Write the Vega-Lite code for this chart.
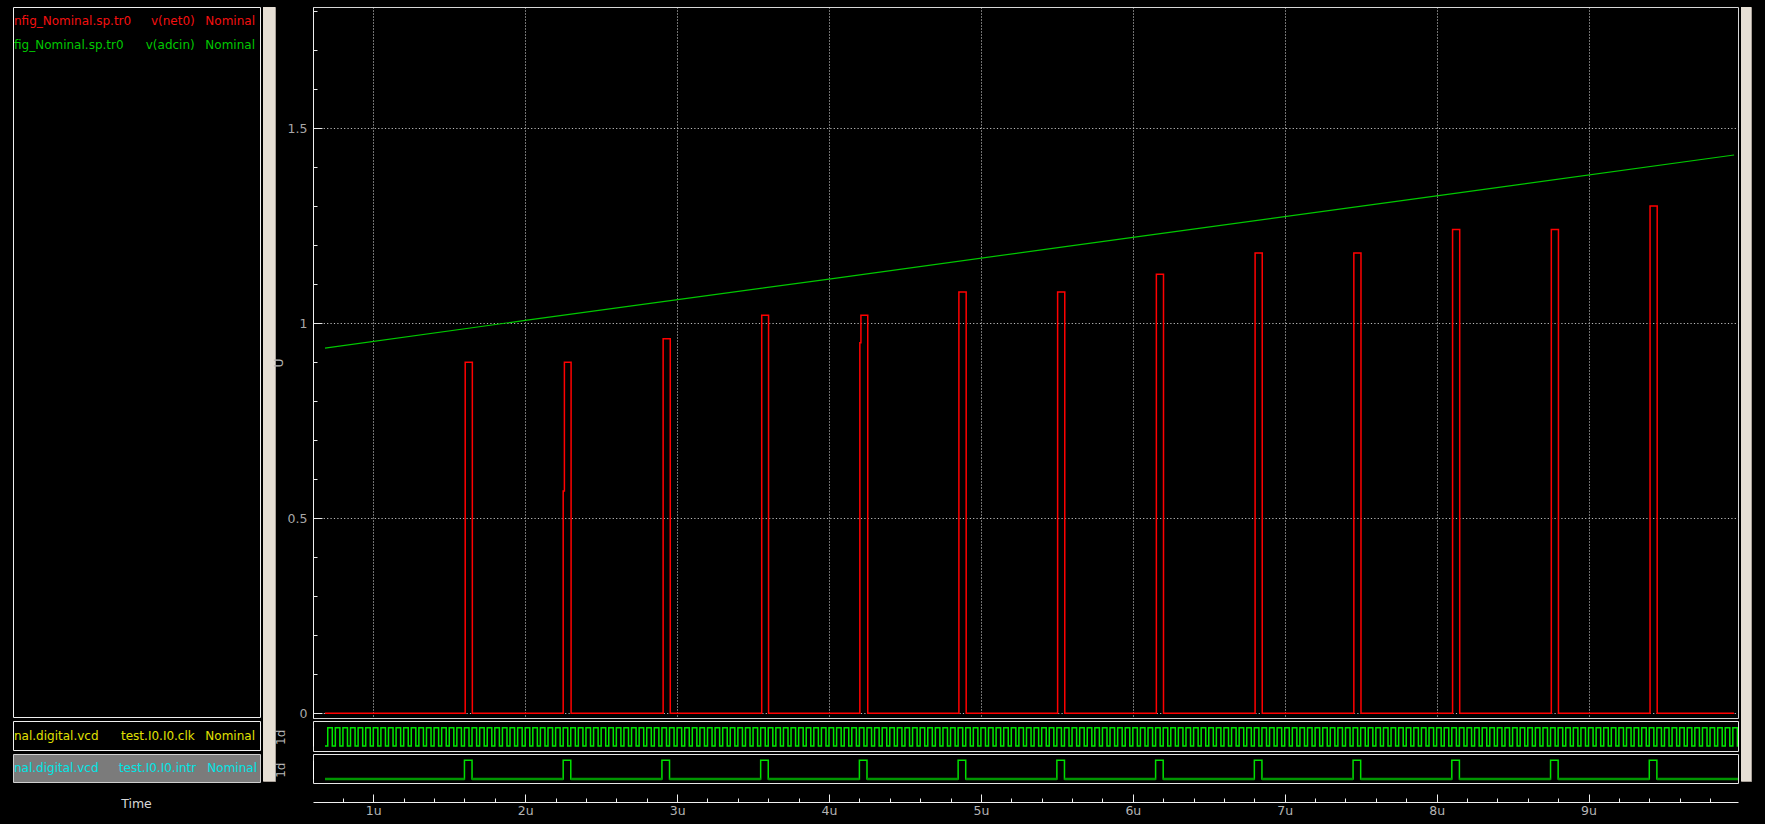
{
  "$schema": "https://vega.github.io/schema/vega-lite/v6.json",
  "background": "#000000",
  "padding": {"left": 12, "top": 6, "right": 15, "bottom": 8},
  "spacing": 1,
  "config": {
    "view": {"stroke": null},
    "font": "DejaVu Sans",
    "text": {"font": "DejaVu Sans"},
    "scale": {"pointPadding": 0},
    "axis": {"labelFont": "DejaVu Sans", "titleFont": "DejaVu Sans", "titleFontWeight": "normal"}
  },
  "datasets": {
    "legend": [
      {"row": 1, "file": "nfig_Nominal.sp.tr0", "signal": "v(net0)", "corner": "Nominal"},
      {"row": 2, "file": "fig_Nominal.sp.tr0", "signal": "v(adcin)", "corner": "Nominal"}
    ],
    "clkLabel": [{"file": "nal.digital.vcd", "signal": "test.I0.I0.clk", "corner": "Nominal"}],
    "intrLabel": [{"file": "nal.digital.vcd", "signal": "test.I0.I0.intr", "corner": "Nominal"}],
    "net0": [
      {"t":0.682,"v":0},{"t":1.605,"v":0.9},{"t":1.652,"v":0},{"t":2.25,"v":0.57},{"t":2.258,"v":0.9},{"t":2.302,"v":0},
      {"t":2.908,"v":0.96},{"t":2.955,"v":0},{"t":3.557,"v":1.02},{"t":3.602,"v":0},{"t":4.203,"v":0.95},{"t":4.21,"v":1.02},{"t":4.255,"v":0},
      {"t":4.855,"v":1.08},{"t":4.903,"v":0},{"t":5.505,"v":1.08},{"t":5.552,"v":0},{"t":6.155,"v":1.125},{"t":6.202,"v":0},
      {"t":6.805,"v":1.18},{"t":6.852,"v":0},{"t":7.455,"v":1.18},{"t":7.502,"v":0},{"t":8.105,"v":1.24},{"t":8.152,"v":0},
      {"t":8.755,"v":1.24},{"t":8.802,"v":0},{"t":9.405,"v":1.3},{"t":9.452,"v":0},{"t":9.958,"v":0}
    ],
    "adcin": [
      {"t":0.682,"v":0.936},{"t":2,"v":1.007},{"t":4,"v":1.113},{"t":6,"v":1.22},{"t":8,"v":1.326},{"t":9.958,"v":1.431}
    ],
    "clk": [
      {"f":0.682,"r":0.7},{"f":0.73,"r":0.75},{"f":0.78,"r":0.8},{"f":0.83,"r":0.85},{"f":0.88,"r":0.9},{"f":0.93,"r":0.95},{"f":0.98,"r":1},
      {"f":1.03,"r":1.05},{"f":1.08,"r":1.1},{"f":1.13,"r":1.15},{"f":1.18,"r":1.2},{"f":1.23,"r":1.25},{"f":1.28,"r":1.3},{"f":1.33,"r":1.35},{"f":1.38,"r":1.4},{"f":1.43,"r":1.45},{"f":1.48,"r":1.5},{"f":1.53,"r":1.55},{"f":1.58,"r":1.6},{"f":1.63,"r":1.65},{"f":1.68,"r":1.7},{"f":1.73,"r":1.75},{"f":1.78,"r":1.8},{"f":1.83,"r":1.85},{"f":1.88,"r":1.9},{"f":1.93,"r":1.95},{"f":1.98,"r":2},
      {"f":2.03,"r":2.05},{"f":2.08,"r":2.1},{"f":2.13,"r":2.15},{"f":2.18,"r":2.2},{"f":2.23,"r":2.25},{"f":2.28,"r":2.3},{"f":2.33,"r":2.35},{"f":2.38,"r":2.4},{"f":2.43,"r":2.45},{"f":2.48,"r":2.5},{"f":2.53,"r":2.55},{"f":2.58,"r":2.6},{"f":2.63,"r":2.65},{"f":2.68,"r":2.7},{"f":2.73,"r":2.75},{"f":2.78,"r":2.8},{"f":2.83,"r":2.85},{"f":2.88,"r":2.9},{"f":2.93,"r":2.95},{"f":2.98,"r":3},
      {"f":3.03,"r":3.05},{"f":3.08,"r":3.1},{"f":3.13,"r":3.15},{"f":3.18,"r":3.2},{"f":3.23,"r":3.25},{"f":3.28,"r":3.3},{"f":3.33,"r":3.35},{"f":3.38,"r":3.4},{"f":3.43,"r":3.45},{"f":3.48,"r":3.5},{"f":3.53,"r":3.55},{"f":3.58,"r":3.6},{"f":3.63,"r":3.65},{"f":3.68,"r":3.7},{"f":3.73,"r":3.75},{"f":3.78,"r":3.8},{"f":3.83,"r":3.85},{"f":3.88,"r":3.9},{"f":3.93,"r":3.95},{"f":3.98,"r":4},
      {"f":4.03,"r":4.05},{"f":4.08,"r":4.1},{"f":4.13,"r":4.15},{"f":4.18,"r":4.2},{"f":4.23,"r":4.25},{"f":4.28,"r":4.3},{"f":4.33,"r":4.35},{"f":4.38,"r":4.4},{"f":4.43,"r":4.45},{"f":4.48,"r":4.5},{"f":4.53,"r":4.55},{"f":4.58,"r":4.6},{"f":4.63,"r":4.65},{"f":4.68,"r":4.7},{"f":4.73,"r":4.75},{"f":4.78,"r":4.8},{"f":4.83,"r":4.85},{"f":4.88,"r":4.9},{"f":4.93,"r":4.95},{"f":4.98,"r":5},
      {"f":5.03,"r":5.05},{"f":5.08,"r":5.1},{"f":5.13,"r":5.15},{"f":5.18,"r":5.2},{"f":5.23,"r":5.25},{"f":5.28,"r":5.3},{"f":5.33,"r":5.35},{"f":5.38,"r":5.4},{"f":5.43,"r":5.45},{"f":5.48,"r":5.5},{"f":5.53,"r":5.55},{"f":5.58,"r":5.6},{"f":5.63,"r":5.65},{"f":5.68,"r":5.7},{"f":5.73,"r":5.75},{"f":5.78,"r":5.8},{"f":5.83,"r":5.85},{"f":5.88,"r":5.9},{"f":5.93,"r":5.95},{"f":5.98,"r":6},
      {"f":6.03,"r":6.05},{"f":6.08,"r":6.1},{"f":6.13,"r":6.15},{"f":6.18,"r":6.2},{"f":6.23,"r":6.25},{"f":6.28,"r":6.3},{"f":6.33,"r":6.35},{"f":6.38,"r":6.4},{"f":6.43,"r":6.45},{"f":6.48,"r":6.5},{"f":6.53,"r":6.55},{"f":6.58,"r":6.6},{"f":6.63,"r":6.65},{"f":6.68,"r":6.7},{"f":6.73,"r":6.75},{"f":6.78,"r":6.8},{"f":6.83,"r":6.85},{"f":6.88,"r":6.9},{"f":6.93,"r":6.95},{"f":6.98,"r":7},
      {"f":7.03,"r":7.05},{"f":7.08,"r":7.1},{"f":7.13,"r":7.15},{"f":7.18,"r":7.2},{"f":7.23,"r":7.25},{"f":7.28,"r":7.3},{"f":7.33,"r":7.35},{"f":7.38,"r":7.4},{"f":7.43,"r":7.45},{"f":7.48,"r":7.5},{"f":7.53,"r":7.55},{"f":7.58,"r":7.6},{"f":7.63,"r":7.65},{"f":7.68,"r":7.7},{"f":7.73,"r":7.75},{"f":7.78,"r":7.8},{"f":7.83,"r":7.85},{"f":7.88,"r":7.9},{"f":7.93,"r":7.95},{"f":7.98,"r":8},
      {"f":8.03,"r":8.05},{"f":8.08,"r":8.1},{"f":8.13,"r":8.15},{"f":8.18,"r":8.2},{"f":8.23,"r":8.25},{"f":8.28,"r":8.3},{"f":8.33,"r":8.35},{"f":8.38,"r":8.4},{"f":8.43,"r":8.45},{"f":8.48,"r":8.5},{"f":8.53,"r":8.55},{"f":8.58,"r":8.6},{"f":8.63,"r":8.65},{"f":8.68,"r":8.7},{"f":8.73,"r":8.75},{"f":8.78,"r":8.8},{"f":8.83,"r":8.85},{"f":8.88,"r":8.9},{"f":8.93,"r":8.95},{"f":8.98,"r":9},
      {"f":9.03,"r":9.05},{"f":9.08,"r":9.1},{"f":9.13,"r":9.15},{"f":9.18,"r":9.2},{"f":9.23,"r":9.25},{"f":9.28,"r":9.3},{"f":9.33,"r":9.35},{"f":9.38,"r":9.4},{"f":9.43,"r":9.45},{"f":9.48,"r":9.5},{"f":9.53,"r":9.55},{"f":9.58,"r":9.6},{"f":9.63,"r":9.65},{"f":9.68,"r":9.7},{"f":9.73,"r":9.75},{"f":9.78,"r":9.8},{"f":9.83,"r":9.85},{"f":9.88,"r":9.9},{"f":9.93,"r":9.95},{"f":9.98,"r":10}
    ],
    "intr": [
      {"f":0.682,"r":1.6},{"f":1.65,"r":2.25},{"f":2.3,"r":2.9},{"f":2.95,"r":3.55},{"f":3.6,"r":4.2},{"f":4.25,"r":4.85},{"f":4.9,"r":5.5},
      {"f":5.55,"r":6.15},{"f":6.2,"r":6.8},{"f":6.85,"r":7.45},{"f":7.5,"r":8.1},{"f":8.15,"r":8.75},{"f":8.8,"r":9.4},{"f":9.45,"r":10.05}
    ]
  },
  "hconcat": [
    {
      "spacing": -5,
      "hconcat": [
        {
          "spacing": 1,
          "hconcat": [
            {
              "spacing": 2,
              "vconcat": [
                {
                  "width": 247, "height": 710,
                  "view": {"stroke": "#f0f0f0", "fill": "#000000"},
                  "data": {"name": "legend"},
                  "encoding": {
                    "y": {"field": "row", "type": "ordinal", "scale": {"type": "point", "domain": [1, 2], "range": [14, 38], "padding": 0}, "axis": null},
                    "color": {"field": "row", "type": "nominal", "scale": {"domain": [1, 2], "range": ["#f51010", "#00c800"]}, "legend": null}
                  },
                  "layer": [
                    {"mark": {"type": "text", "align": "left", "baseline": "middle", "fontSize": 12},
                     "encoding": {"x": {"datum": "file", "type": "ordinal", "scale": {"type": "point", "domain": ["file", "c1", "c2", "signal", "corner"], "range": [1, 242], "padding": 0}, "axis": null}, "text": {"field": "file"}}},
                    {"mark": {"type": "text", "align": "right", "baseline": "middle", "fontSize": 12},
                     "encoding": {"x": {"datum": "signal", "type": "ordinal", "scale": {"type": "point", "domain": ["file", "c1", "c2", "signal", "corner"], "range": [1, 242], "padding": 0}, "axis": null}, "text": {"field": "signal"}}},
                    {"mark": {"type": "text", "align": "right", "baseline": "middle", "fontSize": 12},
                     "encoding": {"x": {"datum": "corner", "type": "ordinal", "scale": {"type": "point", "domain": ["file", "c1", "c2", "signal", "corner"], "range": [1, 242], "padding": 0}, "axis": null}, "text": {"field": "corner"}}}
                  ]
                },
                {
                  "width": 247, "height": 29,
                  "view": {"stroke": "#f0f0f0", "fill": "#000000"},
                  "data": {"name": "clkLabel"},
                  "layer": [
                    {"mark": {"type": "text", "align": "left", "baseline": "middle", "fontSize": 12, "color": "#e0e000"},
                     "encoding": {"x": {"datum": "file", "type": "ordinal", "scale": {"type": "point", "domain": ["file", "c1", "c2", "signal", "corner"], "range": [1, 242], "padding": 0}, "axis": null}, "text": {"field": "file"}}},
                    {"mark": {"type": "text", "align": "right", "baseline": "middle", "fontSize": 12, "color": "#e0e000"},
                     "encoding": {"x": {"datum": "signal", "type": "ordinal", "scale": {"type": "point", "domain": ["file", "c1", "c2", "signal", "corner"], "range": [1, 242], "padding": 0}, "axis": null}, "text": {"field": "signal"}}},
                    {"mark": {"type": "text", "align": "right", "baseline": "middle", "fontSize": 12, "color": "#e0e000"},
                     "encoding": {"x": {"datum": "corner", "type": "ordinal", "scale": {"type": "point", "domain": ["file", "c1", "c2", "signal", "corner"], "range": [1, 242], "padding": 0}, "axis": null}, "text": {"field": "corner"}}}
                  ]
                },
                {
                  "width": 247, "height": 28,
                  "view": {"stroke": "#d0d0d0", "fill": "#7b7b7b"},
                  "data": {"name": "intrLabel"},
                  "layer": [
                    {"mark": {"type": "text", "align": "left", "baseline": "middle", "fontSize": 12, "color": "#00e6e6"},
                     "encoding": {"x": {"datum": "file", "type": "ordinal", "scale": {"type": "point", "domain": ["file", "c1", "c2", "signal", "corner"], "range": [1, 244], "padding": 0}, "axis": null}, "text": {"field": "file"}}},
                    {"mark": {"type": "text", "align": "right", "baseline": "middle", "fontSize": 12, "color": "#00e6e6"},
                     "encoding": {"x": {"datum": "signal", "type": "ordinal", "scale": {"type": "point", "domain": ["file", "c1", "c2", "signal", "corner"], "range": [1, 244], "padding": 0}, "axis": null}, "text": {"field": "signal"}}},
                    {"mark": {"type": "text", "align": "right", "baseline": "middle", "fontSize": 12, "color": "#00e6e6"},
                     "encoding": {"x": {"datum": "corner", "type": "ordinal", "scale": {"type": "point", "domain": ["file", "c1", "c2", "signal", "corner"], "range": [1, 244], "padding": 0}, "axis": null}, "text": {"field": "corner"}}}
                  ]
                },
                {
                  "width": 247, "height": 38,
                  "data": {"values": [{"label": "Time"}]},
                  "mark": {"type": "text", "fontSize": 12.5, "color": "#d8d8d8"},
                  "encoding": {"text": {"field": "label"}}
                }
              ]
            },
            {
              "width": 12, "height": 774,
              "view": {"stroke": "#a8a098", "fill": "#e6dfd5"},
              "data": {"values": [{"part": "scrollbar"}]},
              "mark": {"type": "rect", "fill": "#e6dfd5"}
            }
          ]
        },
        {
          "spacing": -6,
          "vconcat": [
            {
              "width": 1425, "height": 711,
              "view": {"stroke": "#d6d6d6", "fill": "#000000"},
              "resolve": {"scale": {"y": "independent"}},
              "layer": [
                {
                  "data": {"name": "net0"},
                  "mark": {"type": "line", "interpolate": "step-after", "color": "#ff0000", "strokeWidth": 1.5, "clip": true},
                  "encoding": {
                    "x": {"field": "t", "type": "quantitative", "scale": {"domain": [0.603, 9.984], "nice": false, "zero": false},
                          "axis": {"orient": "bottom", "values": [1,2,3,4,5,6,7,8,9], "grid": true, "gridColor": "#e0e0e0", "gridDash": [1, 2], "domain": false, "ticks": false, "labels": false, "title": null}},
                    "y": {"field": "v", "type": "quantitative", "scale": {"domain": [-0.01205, 1.81026], "nice": false, "zero": false},
                          "axis": {"orient": "left", "values": [0, 0.5, 1, 1.5], "format": "~g", "tickSize": -9, "tickColor": "#e8e8e8",
                                   "labelColor": "#a8a8a8", "labelFontSize": 12.5, "labelPadding": 15,
                                   "grid": true, "gridColor": "#bdbdbd", "gridDash": [1.2, 2.2],
                                   "domain": true, "domainColor": "#eeeeee",
                                   "title": "U", "titleColor": "#b4b4b4", "titleFontSize": 12.5, "titlePadding": 2}}
                  }
                },
                {
                  "data": {"name": "adcin"},
                  "mark": {"type": "line", "color": "#00c800", "strokeWidth": 1.2, "clip": true},
                  "encoding": {
                    "x": {"field": "t", "type": "quantitative", "scale": {"domain": [0.603, 9.984], "nice": false, "zero": false},
                          "axis": {"orient": "bottom", "values": [1,2,3,4,5,6,7,8,9], "grid": true, "gridColor": "#e0e0e0", "gridDash": [1, 2], "domain": false, "ticks": false, "labels": false, "title": null}},
                    "y": {"field": "v", "type": "quantitative", "scale": {"domain": [-0.01205, 1.81026], "nice": false, "zero": false},
                          "axis": {"orient": "left", "values": [0.1,0.2,0.3,0.4,0.6,0.7,0.8,0.9,1.1,1.2,1.3,1.4,1.6,1.7,1.8], "tickSize": -4, "tickColor": "#e8e8e8",
                                   "labels": false, "grid": false, "domain": false, "title": null}}
                  }
                }
              ]
            },
            {
              "spacing": 1,
              "vconcat": [
                {
                  "width": 1425, "height": 30,
                  "view": {"stroke": "#e6e6e6", "fill": "#000000"},
                  "data": {"name": "clk"},
                  "transform": [{"fold": ["f", "r"], "as": ["key", "t"]}],
                  "mark": {"type": "line", "interpolate": "step-after", "color": "#00e600", "strokeWidth": 1.5, "clip": true},
                  "encoding": {
                    "x": {"field": "t", "type": "quantitative", "scale": {"domain": [0.603, 9.984], "nice": false, "zero": false}, "axis": null},
                    "y": {"field": "key", "type": "ordinal", "scale": {"type": "point", "domain": ["r", "f"], "range": [6.7, 25], "padding": 0},
                          "axis": {"title": "1d", "titleColor": "#b8b8b8", "titleFontSize": 12, "titlePadding": 26, "labels": false, "ticks": false, "domain": true, "domainColor": "#ffffff", "grid": false}},
                    "order": {"field": "t", "type": "quantitative"}
                  }
                },
                {
                  "width": 1425, "height": 29,
                  "view": {"stroke": "#e6e6e6", "fill": "#000000"},
                  "data": {"name": "intr"},
                  "resolve": {"scale": {"x": "independent"}},
                  "layer": [
                    {
                      "transform": [{"fold": ["f", "r"], "as": ["key", "t"]}],
                      "mark": {"type": "line", "interpolate": "step-after", "color": "#00e000", "strokeWidth": 1.5, "clip": true},
                      "encoding": {
                        "x": {"field": "t", "type": "quantitative", "scale": {"domain": [0.603, 9.984], "nice": false, "zero": false},
                              "axis": {"orient": "bottom", "offset": 19, "values": [1,2,3,4,5,6,7,8,9], "tickSize": -8, "tickColor": "#f0f0f0",
                                       "labelExpr": "datum.value + 'u'", "labelColor": "#b4b4b4", "labelFontSize": 12.5, "labelPadding": 10.5,
                                       "domain": true, "domainColor": "#f0f0f0", "grid": false, "title": null}},
                        "y": {"field": "key", "type": "ordinal", "scale": {"type": "point", "domain": ["r", "f"], "range": [6.3, 25], "padding": 0},
                              "axis": {"title": "1d", "titleColor": "#b8b8b8", "titleFontSize": 12, "titlePadding": 26, "labels": false, "ticks": false, "domain": true, "domainColor": "#ffffff", "grid": false}},
                        "order": {"field": "t", "type": "quantitative"}
                      }
                    },
                    {
                      "mark": {"type": "rule", "color": "#009600", "strokeWidth": 2.5, "clip": true},
                      "encoding": {
                        "x": {"field": "f", "type": "quantitative", "scale": {"domain": [0.603, 9.984], "nice": false, "zero": false},
                              "axis": {"orient": "bottom", "offset": 19, "values": [0.8,1.2,1.4,1.6,1.8,2.2,2.4,2.6,2.8,3.2,3.4,3.6,3.8,4.2,4.4,4.6,4.8,5.2,5.4,5.6,5.8,6.2,6.4,6.6,6.8,7.2,7.4,7.6,7.8,8.2,8.4,8.6,8.8,9.2,9.4,9.6,9.8],
                                       "tickSize": -4, "tickColor": "#f0f0f0", "labels": false, "domain": false, "grid": false, "title": null}},
                        "x2": {"field": "r"},
                        "y": {"datum": "f", "type": "ordinal", "scale": {"type": "point", "domain": ["r", "f"], "range": [6.3, 25], "padding": 0},
                              "axis": {"title": "1d", "titleColor": "#b8b8b8", "titleFontSize": 12, "titlePadding": 26, "labels": false, "ticks": false, "domain": true, "domainColor": "#ffffff", "grid": false}}
                      }
                    }
                  ]
                }
              ]
            }
          ]
        }
      ]
    },
    {
      "width": 10, "height": 774,
      "view": {"stroke": "#a8a098", "fill": "#e6dfd5"},
      "data": {"values": [{"part": "scrollbar"}]},
      "mark": {"type": "rect", "fill": "#e6dfd5"}
    }
  ]
}
